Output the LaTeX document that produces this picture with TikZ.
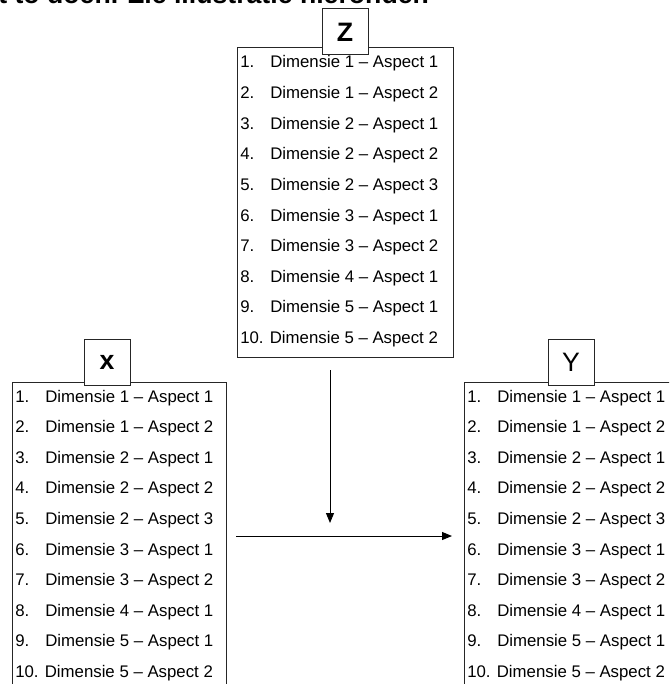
\documentclass[tikz,border=0pt]{standalone}
\usepackage{fontspec}
\setmainfont{Liberation Sans}
\usetikzlibrary{arrows.meta}
\tikzset{
  listbox/.style={draw=black!85, line width=0.75pt},
  lbl/.style={draw=black!85, fill=white, line width=0.75pt, minimum width=34.5pt, minimum height=34.5pt, inner sep=0pt, font=\fontsize{20}{24}\selectfont},
  row/.style={anchor=base west, inner sep=0pt, font=\fontsize{12.6}{15}\selectfont},
  arr/.style={line width=0.75pt, -{Triangle[length=7.5pt,width=6pt]}}
}
\begin{document}
\begin{tikzpicture}[x=0.75pt,y=-0.75pt]
\clip (0,0) rectangle (669,684);
\fill[white] (0,0) rectangle (669,684);

\node[anchor=base west, inner sep=0pt, font=\fontsize{20}{24}\selectfont\bfseries] (intro) at (-2,3.5) {t to doen. Zie illustratie hieronder.};

\draw[listbox] (237,48) rectangle (453,357);
\draw[listbox] (12,382) rectangle (226,700);
\draw[listbox] (464,382) rectangle (680,700);

\foreach \b/\l/\t in {z/237/68, x/12/402, y/464/402}{
  \foreach \i/\d/\a in {1/1/1, 2/1/2, 3/2/1, 4/2/2, 5/2/3, 6/3/1, 7/3/2, 8/4/1, 9/5/1}{
    \node[row] (\b-n\i) at (\l+3, \t+30.6*\i-30.6) {\i.};
    \node[row] (\b-t\i) at (\l+33, \t+30.6*\i-30.6) {Dimensie \d\ -- Aspect \a};
  }
  \node[row] (\b-n10) at (\l+3, \t+275.4) {10. Dimensie 5 -- Aspect 2};
}

\node[lbl] (zlab) at (345,32) {\bfseries Z};
\node[lbl] (xlab) at (107,362) {\bfseries x};
\node[lbl] (ylab) at (571,362) {Y};

\coordinate (vtop) at (330,370);
\coordinate (vend) at (330,523);
\coordinate (hbeg) at (236,536);
\coordinate (hend) at (452,536);
\draw[arr] (vtop) -- (vend);
\draw[arr] (hbeg) -- (hend);
\end{tikzpicture}
\end{document}
